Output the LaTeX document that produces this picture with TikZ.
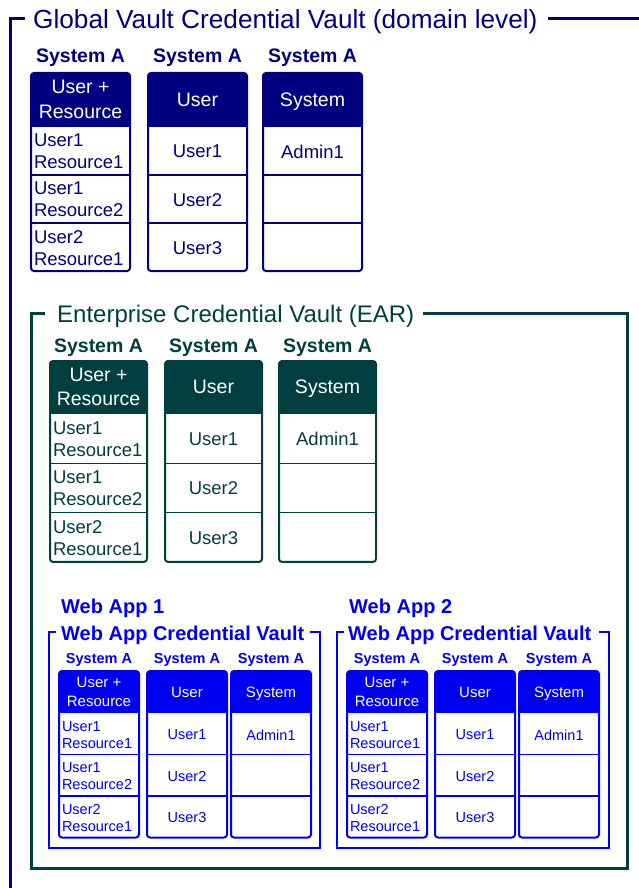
\documentclass[tikz,border=0pt]{standalone}
\usepackage{fontspec}
\setmainfont{Liberation Sans}
\definecolor{gnavy}{HTML}{000080}
\definecolor{eteal}{HTML}{003F3F}
\definecolor{wblue}{HTML}{0000F0}

% group settings: colour, width, header height, row height, label baseline, cell font, header font, label font
\newcommand\cvset[8]{\def\cvC{#1}\def\cvW{#2}\def\cvHh{#3}\def\cvRh{#4}\def\cvLy{#5}\def\cvCF{#6}\def\cvHF{#7}\def\cvLF{#8}}

\tikzset{
  cellbox/.style={font=\cvCF, text=\cvC, text width=\cvTW pt, align=#1, inner sep=0pt},
  hdrbox/.style={font=\cvHF, text=white, align=center, inner sep=0pt},
  lblbox/.style={font=\cvLF\bfseries, text=\cvC, anchor=base, inner sep=0pt},
  gframe/.style={gnavy, line width=3pt},
  eframe/.style={eteal, line width=3pt},
  wframe/.style={wblue, line width=2.2pt},
  titlebox/.style={anchor=base west, inner sep=0pt},
}

% #1 name, #2 x, #3 y top, #4 header, #5-#7 cells, #8 alignment
\newcommand\coltab[8]{%
  \pgfmathsetmacro\cvTh{\cvHh+3*\cvRh}%
  \pgfmathsetmacro\cvTW{\cvW-6}%
  \begin{scope}
    \clip[rounded corners=3pt] (#2,#3) rectangle ++(\cvW,\cvTh);
    \fill[white] (#2,#3) rectangle ++(\cvW,\cvTh);
    \fill[\cvC] (#2,#3) rectangle ++(\cvW,\cvHh);
  \end{scope}
  \foreach \k in {1,2} {\draw[\cvC, line width=1.5pt] (#2,{#3+\cvHh+\k*\cvRh}) -- ++(\cvW,0);}
  \draw[\cvC, line width=2pt, rounded corners=3pt] (#2,#3) rectangle ++(\cvW,\cvTh);
  \node[lblbox] (#1l) at ({#2+\cvW/2},\cvLy) {System A};
  \node[hdrbox] (#1h) at ({#2+\cvW/2},{#3+\cvHh/2+1.5}) {#4\vphantom{y}};
  \if\relax\detokenize{#5}\relax\else
    \node[cellbox=#8] (#1a) at ({#2+\cvW/2},{#3+\cvHh+0.5*\cvRh+2.5}) {#5\vphantom{y}};\fi
  \if\relax\detokenize{#6}\relax\else
    \node[cellbox=#8] (#1b) at ({#2+\cvW/2},{#3+\cvHh+1.5*\cvRh+2.5}) {#6\vphantom{y}};\fi
  \if\relax\detokenize{#7}\relax\else
    \node[cellbox=#8] (#1c) at ({#2+\cvW/2},{#3+\cvHh+2.5*\cvRh+2.5}) {#7\vphantom{y}};\fi
}

\begin{document}
\begin{tikzpicture}[x=1pt,y=-1pt]
\useasboundingbox (0,0) rectangle (639,888);

% ---------- Global vault ----------
\node[titlebox, text=gnavy, font=\fontsize{26.2}{30}\selectfont] (gtitle) at (33,29) {Global Vault Credential Vault (domain level)};
\draw[gframe] (25,19) -- (10,19) -- (10,892);
\draw[gframe] (548,19) -- (642,19);

\cvset{gnavy}{99}{54}{48}{63}{\fontsize{18.5}{22}\selectfont}{\fontsize{19.5}{24.5}\selectfont}{\fontsize{19.5}{23}\selectfont}
\coltab{g1}{31}{73}{User +\\Resource}{User1\\Resource1}{User1\\Resource2}{User2\\Resource1}{left}
\coltab{g2}{148}{73}{User}{User1}{User2}{User3}{center}
\coltab{g3}{263}{73}{System}{Admin1}{}{}{center}

% ---------- Enterprise vault ----------
\node[titlebox, text=eteal, font=\fontsize{24}{28}\selectfont] (etitle) at (57,322) {Enterprise Credential Vault (EAR)};
\draw[eframe] (45,313) -- (31,313) -- (31,868) -- (627,868) -- (627,313) -- (423,313);

\cvset{eteal}{97}{53}{49.3}{352}{\fontsize{18.5}{22}\selectfont}{\fontsize{19.5}{24.5}\selectfont}{\fontsize{19.5}{23}\selectfont}
\coltab{e1}{50}{361}{User +\\Resource}{User1\\Resource1}{User1\\Resource2}{User2\\Resource1}{left}
\coltab{e2}{165}{361}{User}{User1}{User2}{User3}{center}
\coltab{e3}{279}{361}{System}{Admin1}{}{}{center}

% ---------- Web App 1 ----------
\node[titlebox, text=wblue, font=\fontsize{20}{24}\selectfont\bfseries] (w1name) at (61,613) {Web App 1};
\node[titlebox, text=wblue, font=\fontsize{20}{24}\selectfont\bfseries] (w1title) at (61,640) {Web App Credential Vault};
\draw[wframe] (56,632) -- (49,632) -- (49,848) -- (320,848) -- (320,632) -- (310,632);

\cvset{wblue}{80}{42}{41.5}{663}{\fontsize{14.5}{17}\selectfont}{\fontsize{15}{19}\selectfont}{\fontsize{14.5}{17}\selectfont}
\coltab{a1}{59}{671}{User +\\Resource}{User1\\Resource1}{User1\\Resource2}{User2\\Resource1}{left}
\coltab{a2}{147}{671}{User}{User1}{User2}{User3}{center}
\coltab{a3}{231}{671}{System}{Admin1}{}{}{center}

% ---------- Web App 2 ----------
\node[titlebox, text=wblue, font=\fontsize{20}{24}\selectfont\bfseries] (w2name) at (349,613) {Web App 2};
\node[titlebox, text=wblue, font=\fontsize{20}{24}\selectfont\bfseries] (w2title) at (348,640) {Web App Credential Vault};
\draw[wframe] (344,632) -- (337,632) -- (337,848) -- (609,848) -- (609,632) -- (599,632);

\coltab{b1}{347}{671}{User +\\Resource}{User1\\Resource1}{User1\\Resource2}{User2\\Resource1}{left}
\coltab{b2}{435}{671}{User}{User1}{User2}{User3}{center}
\coltab{b3}{519}{671}{System}{Admin1}{}{}{center}

\end{tikzpicture}
\end{document}
